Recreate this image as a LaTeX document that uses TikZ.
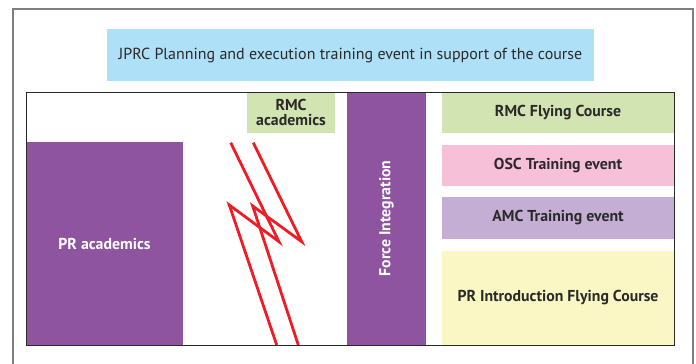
\documentclass[tikz,border=0pt]{standalone}
\usepackage{fontspec}
\setmainfont{PT Sans}
\definecolor{skyblue}{HTML}{AEE0F7}
\definecolor{plum}{HTML}{8E54A0}
\definecolor{sage}{HTML}{D1E4B1}
\definecolor{rosepink}{HTML}{F6C0D8}
\definecolor{lilac}{HTML}{C4AED3}
\definecolor{cream}{HTML}{FAF7C4}
\definecolor{boltred}{HTML}{EE1C25}
\definecolor{ink}{HTML}{2B2A2A}

\begin{document}
\begin{tikzpicture}[x=1pt,y=-1pt,
  block/.style={inner sep=0pt,align=center,font=\fontsize{15.8}{16}\selectfont\bfseries,text=ink},
  darkblock/.style={block,fill=plum,text=white},
  bolt/.style={color=boltred,line width=2.8pt,line join=miter}]
  \useasboundingbox (0,0) rectangle (696,364);
  %\fill[white] (0,0) rectangle (696,364);
  \draw[color=gray,line width=1.3pt] (13,364) -- (13,9) -- (693,9) -- (693,364);
  \node[block,fill=skyblue,minimum width=487,minimum height=52,font=\fontsize{16}{17}\selectfont] (title) at (350.5,55) {JPRC Planning and execution training event in support of the course};
  \node[darkblock,minimum width=157,minimum height=203] (pracad) at (104.5,243.5) {PR academics};
  \node[block,fill=sage,minimum width=88,minimum height=41,font=\fontsize{15.8}{15}\selectfont\bfseries] (rmcacad) at (291,112.5) {RMC\\academics};
  \node[darkblock,minimum width=253,minimum height=79,rotate=90] (force) at (386.5,218.5) {Force Integration};
  \node[block,fill=sage,minimum width=232,minimum height=41] (rmcfly) at (558,112.5) {RMC Flying Course};
  \node[block,fill=rosepink,minimum width=232,minimum height=41] (osc) at (558,165.5) {OSC Training event};
  \node[block,fill=lilac,minimum width=232,minimum height=42] (amc) at (558,218) {AMC Training event};
  \node[block,fill=cream,minimum width=232,minimum height=94] (prfly) at (558,298) {PR Introduction Flying Course};
  \draw[bolt] (230.7,142.7) -- (279,241.7) -- (229.3,205) -- (276.7,345);
  \draw[bolt] (253.3,142.7) -- (301.7,241.7) -- (252.7,206) -- (298.3,345);
  \draw[color=ink,line width=0.9pt] (26,92) rectangle (674,345);
\end{tikzpicture}
\end{document}
